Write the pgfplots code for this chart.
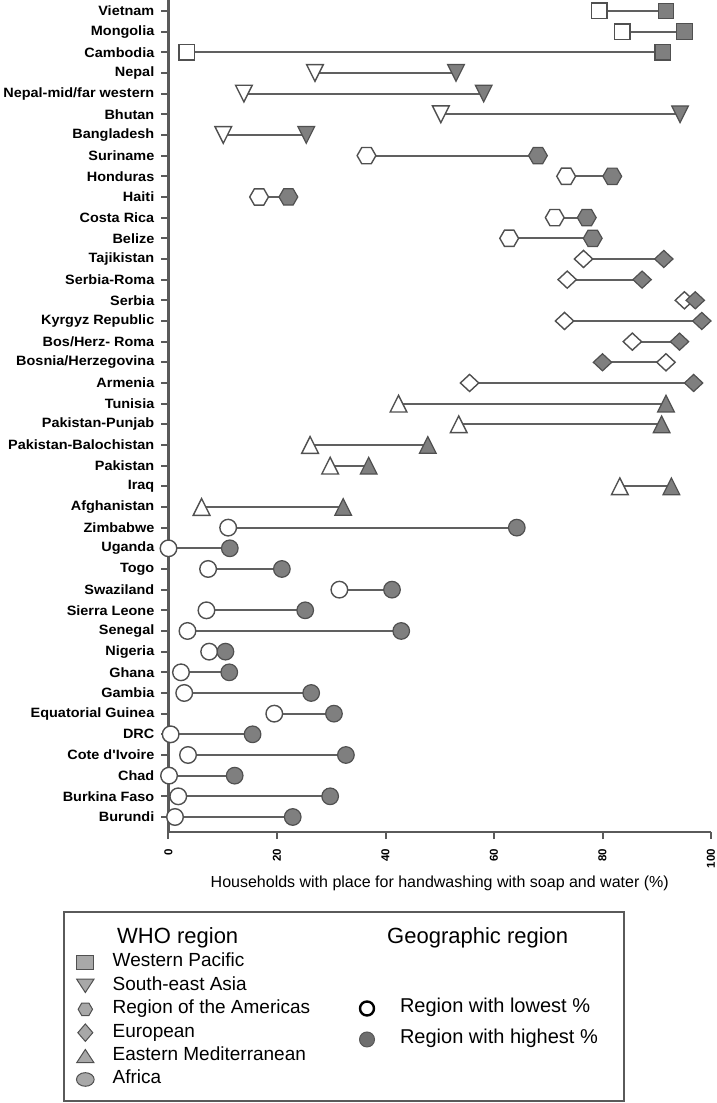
\documentclass[border=0pt]{standalone}
\usepackage{pgfplots}
\pgfplotsset{compat=1.18}
\usepackage{pgfplotstable}
\usepackage{fontspec}
\setmainfont{Liberation Sans}
\newfontfamily\lblfont{Liberation Sans}[FakeStretch=1.07]
\definecolor{axisgray}{HTML}{5A5A5A}
\definecolor{linegray}{HTML}{606060}
\definecolor{edgegray}{HTML}{505050}
\definecolor{fillgray}{HTML}{7F7F7F}
\definecolor{leggray}{HTML}{A8A8A8}
\definecolor{legdark}{HTML}{6E6E6E}

\pgfdeclareplotmark{hexagon}{%
  \pgfpathmoveto{\pgfqpoint{\pgfplotmarksize}{0pt}}%
  \pgfpathlineto{\pgfqpoint{0.5\pgfplotmarksize}{0.866\pgfplotmarksize}}%
  \pgfpathlineto{\pgfqpoint{-0.5\pgfplotmarksize}{0.866\pgfplotmarksize}}%
  \pgfpathlineto{\pgfqpoint{-\pgfplotmarksize}{0pt}}%
  \pgfpathlineto{\pgfqpoint{-0.5\pgfplotmarksize}{-0.866\pgfplotmarksize}}%
  \pgfpathlineto{\pgfqpoint{0.5\pgfplotmarksize}{-0.866\pgfplotmarksize}}%
  \pgfpathclose\pgfusepathqfillstroke}
\pgfdeclareplotmark{mydiamond}{%
  \pgfpathmoveto{\pgfqpoint{\pgfplotmarksize}{0pt}}%
  \pgfpathlineto{\pgfqpoint{0pt}{0.93\pgfplotmarksize}}%
  \pgfpathlineto{\pgfqpoint{-\pgfplotmarksize}{0pt}}%
  \pgfpathlineto{\pgfqpoint{0pt}{-0.93\pgfplotmarksize}}%
  \pgfpathclose\pgfusepathqfillstroke}
\pgfdeclareplotmark{tridown}{%
  \pgfpathmoveto{\pgfqpoint{-0.95\pgfplotmarksize}{0.95\pgfplotmarksize}}%
  \pgfpathlineto{\pgfqpoint{0.95\pgfplotmarksize}{0.95\pgfplotmarksize}}%
  \pgfpathlineto{\pgfqpoint{0pt}{-0.95\pgfplotmarksize}}%
  \pgfpathclose\pgfusepathqfillstroke}
\pgfdeclareplotmark{triup}{%
  \pgfpathmoveto{\pgfqpoint{-0.95\pgfplotmarksize}{-0.95\pgfplotmarksize}}%
  \pgfpathlineto{\pgfqpoint{0.95\pgfplotmarksize}{-0.95\pgfplotmarksize}}%
  \pgfpathlineto{\pgfqpoint{0pt}{0.95\pgfplotmarksize}}%
  \pgfpathclose\pgfusepathqfillstroke}

% y index: 0 = Burundi (bottom) ... 39 = Vietnam (top)
\pgfplotstableread{
y low high
39 79.4 91.7
38 83.6 95.1
37 3.4 91.1
}\wp
\pgfplotstableread{
y low high
36 27.0 53.0
35 13.9 58.1
34 50.2 94.3
33 10.1 25.4
}\sea
\pgfplotstableread{
y low high
32 36.5 68.1
31 73.3 81.8
30 16.7 22.1
29 71.2 77.1
28 62.8 78.2
}\amr
\pgfplotstableread{
y low high
27 76.5 91.3
26 73.5 87.3
25 95.1 97.1
24 73.0 98.3
23 85.5 94.2
22 91.7 80.0
21 55.5 96.8
}\eur
\pgfplotstableread{
y low high
20 42.4 91.7
19 53.5 90.9
18 26.1 47.8
17 29.8 36.9
16 83.2 92.7
15 6.1 32.2
}\emr
\pgfplotstableread{
y low high
14 11.0 64.2
13 0.0 11.3
12 7.3 20.9
11 31.5 41.2
10 7.0 25.2
9 3.5 42.9
8 7.5 10.5
7 2.3 11.2
6 2.9 26.3
5 19.5 30.5
4 0.4 15.5
3 3.6 32.7
2 0.1 12.2
1 1.8 29.8
0 1.2 22.9
}\afr

\pgfplotsset{
  conn/.style={draw=none, mark=none, forget plot,
    error bars/.cd, x dir=plus, x explicit, error mark=none,
    error bar style={line width=2pt, color=linegray}},
  openm/.style={only marks, forget plot, mark options={fill=white, draw=edgegray, line width=1.4pt}},
  fillm/.style={only marks, forget plot, mark options={fill=fillgray, draw=edgegray, line width=1.2pt}},
}

\begin{document}
\begin{tikzpicture}
\path[use as bounding box] (0pt,0pt) rectangle (717pt,1103pt);
\begin{axis}[
  at={(168.5pt,271pt)}, anchor=south west,
  scale only axis, width=542.5pt, height=832pt,
  xmin=0, xmax=100, ymin=-0.726, ymax=39.53,
  axis lines*=left,
  clip=false,
  xtick={0,20,40,60,80,100},
  ytick={0,...,39},
  yticklabels={Burundi,Burkina Faso,Chad,Cote d'Ivoire,DRC,Equatorial Guinea,Gambia,Ghana,Nigeria,Senegal,Sierra Leone,Swaziland,Togo,Uganda,Zimbabwe,Afghanistan,Iraq,Pakistan,Pakistan-Balochistan,Pakistan-Punjab,Tunisia,Armenia,Bosnia/Herzegovina,Bos/Herz- Roma,Kyrgyz Republic,Serbia,Serbia-Roma,Tajikistan,Belize,Costa Rica,Haiti,Honduras,Suriname,Bangladesh,Bhutan,Nepal-mid/far western,Nepal,Cambodia,Mongolia,Vietnam},
  tick align=outside,
  major tick length=7pt,
  axis line style={line width=2.2pt, color=axisgray},
  tick style={line width=2pt, color=axisgray},
  /pgf/number format/assume math mode=true,
  xticklabel shift=10pt,
  yticklabel shift=7pt,
  xticklabel style={rotate=90, anchor=east, inner sep=0pt, font=\bfseries\fontsize{11.5}{11.5}\selectfont},
  yticklabel style={anchor=east, inner sep=0pt, font=\lblfont\bfseries\fontsize{13.5}{13.5}\selectfont},
  xlabel={Households with place for handwashing with soap and water (\%)},
  xlabel style={at={(axis description cs:0.5,-0.0613)}, anchor=center, font=\fontsize{16}{16}\selectfont},
  legend style={draw=none, fill=none, inner sep=0pt, outer sep=0pt,
    at={(axis description cs:-0.1696,-0.1454)}, anchor=north west,
    row sep=4.4pt, column sep=18.5pt,
    nodes={inner sep=0pt, text height=14pt, text depth=5pt, font=\fontsize{19}{19}\selectfont}},
  legend cell align=left,
]
% Western Pacific
\addplot[conn] table[x=low, y=y, x error expr=\thisrow{high}-\thisrow{low}] {\wp};
\addplot[openm, mark=square*, mark size=7.8pt] table[x=low, y=y] {\wp};
\addplot[fillm, mark=square*, mark size=7.8pt] table[x=high, y=y] {\wp};
% South-east Asia
\addplot[conn] table[x=low, y=y, x error expr=\thisrow{high}-\thisrow{low}] {\sea};
\addplot[openm, mark=tridown, mark size=8.8pt] table[x=low, y=y] {\sea};
\addplot[fillm, mark=tridown, mark size=8.8pt] table[x=high, y=y] {\sea};
% Americas
\addplot[conn] table[x=low, y=y, x error expr=\thisrow{high}-\thisrow{low}] {\amr};
\addplot[openm, mark=hexagon, mark size=9.4pt] table[x=low, y=y] {\amr};
\addplot[fillm, mark=hexagon, mark size=9.4pt] table[x=high, y=y] {\amr};
% European
\addplot[conn] table[x=low, y=y, x error expr=\thisrow{high}-\thisrow{low}] {\eur};
\addplot[openm, mark=mydiamond, mark size=9.2pt] table[x=low, y=y] {\eur};
\addplot[fillm, mark=mydiamond, mark size=9.2pt] table[x=high, y=y] {\eur};
% Eastern Mediterranean
\addplot[conn] table[x=low, y=y, x error expr=\thisrow{high}-\thisrow{low}] {\emr};
\addplot[openm, mark=triup, mark size=8.8pt] table[x=low, y=y] {\emr};
\addplot[fillm, mark=triup, mark size=8.8pt] table[x=high, y=y] {\emr};
% Africa
\addplot[conn] table[x=low, y=y, x error expr=\thisrow{high}-\thisrow{low}] {\afr};
\addplot[openm, mark=*, mark size=8.3pt] table[x=low, y=y] {\afr};
\addplot[fillm, mark=*, mark size=8.3pt] table[x=high, y=y] {\afr};

\addlegendimage{only marks, mark=square*, mark size=6.8pt, mark options={fill=leggray, draw=edgegray, line width=1pt, xscale=1.25}}
\addlegendentry{Western Pacific}
\addlegendimage{only marks, mark=tridown, mark size=7pt, mark options={fill=leggray, draw=edgegray, line width=1pt, xscale=1.3}}
\addlegendentry{South-east Asia}
\addlegendimage{only marks, mark=hexagon, mark size=7.2pt, mark options={fill=leggray, draw=edgegray, line width=1pt}}
\addlegendentry{Region of the Americas}
\addlegendimage{only marks, mark=mydiamond, mark size=7.5pt, mark options={fill=leggray, draw=edgegray, line width=1pt, yscale=1.25}}
\addlegendentry{European}
\addlegendimage{only marks, mark=triup, mark size=7pt, mark options={fill=leggray, draw=edgegray, line width=1pt, xscale=1.3}}
\addlegendentry{Eastern Mediterranean}
\addlegendimage{only marks, mark=*, mark size=6.8pt, mark options={fill=leggray, draw=edgegray, line width=1pt, xscale=1.3}}
\addlegendentry{Africa}

\node[anchor=west, inner sep=0pt, font=\fontsize{22}{22}\selectfont] at (axis description cs:-0.0949,-0.1274) {WHO region};
\node[anchor=west, inner sep=0pt, font=\fontsize{22}{22}\selectfont] at (axis description cs:0.4028,-0.1274) {Geographic region};
\end{axis}

\begin{axis}[
  at={(168.5pt,271pt)}, anchor=south west,
  scale only axis, width=542.5pt, height=832pt,
  xmin=0, xmax=1, ymin=0, ymax=1, hide axis,
  legend style={draw=none, fill=none, inner sep=0pt, outer sep=0pt,
    at={(axis description cs:0.3521,-0.2007)}, anchor=north west,
    row sep=12pt, column sep=25.5pt,
    nodes={inner sep=0pt, text height=14pt, text depth=5pt, font=\fontsize{20}{20}\selectfont}},
  legend cell align=left,
]
\addlegendimage{only marks, mark=*, mark size=7pt, mark options={fill=white, draw=black, line width=2.4pt}}
\addlegendentry{Region with lowest \%}
\addlegendimage{only marks, mark=*, mark size=7.5pt, mark options={fill=legdark, draw=legdark!80!black, line width=1pt}}
\addlegendentry{Region with highest \%}
\end{axis}

\draw[line width=1.5pt, color=axisgray] (64pt,2pt) rectangle (624pt,191pt);
\end{tikzpicture}
\end{document}
